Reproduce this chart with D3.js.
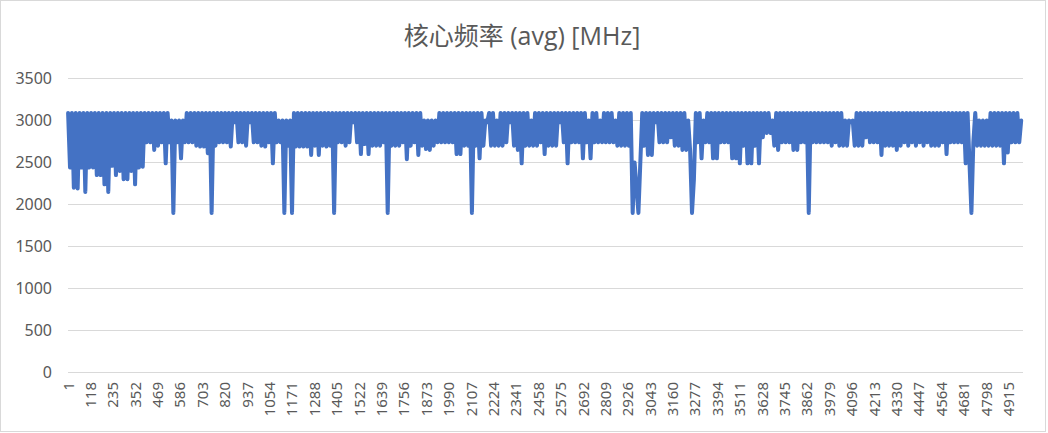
<!DOCTYPE html>
<html><head><meta charset="utf-8">
<script src="https://cdn.jsdelivr.net/npm/d3@7"></script>
<style>body{margin:0;background:#fff} svg{display:block}</style>
</head><body>
<svg id="c" width="1048" height="433"></svg>
<script>
const chartTitle = "核心频率 (avg) [MHz]";
const totalSamples = 4990;
const sampleStep = 10; // one reading kept per 10 samples
const yTicks = [0, 500, 1000, 1500, 2000, 2500, 3000, 3500];
const xTickLabels = [1,118,235,352,469,586,703,820,937,1054,1171,1288,1405,1522,1639,1756,1873,1990,2107,2224,2341,2458,2575,2692,2809,2926,3043,3160,3277,3394,3511,3628,3745,3862,3979,4096,4213,4330,4447,4564,4681,4798,4915];
const freqMHz = [
3090,2440,3090,2200,3090,2190,3090,2440,3090,2150,
3090,2440,3090,2440,3090,2350,3090,2350,3090,2240,
3090,2150,3090,2460,3090,2350,3090,2400,3090,2300,
3090,2300,3090,2400,3090,2240,3090,2440,3090,2450,
3090,2740,3090,2740,3090,2650,3090,2700,3090,2740,
3090,2490,3090,2740,3000,1900,3000,2740,3000,2550,
3000,2740,3090,2740,3090,2740,3090,2700,3090,2690,
3090,2690,3090,2610,3090,1900,3090,2700,3090,2740,
3090,2740,3090,2740,3090,2690,3090,2980,3090,2740,
3090,2740,3090,2700,3090,2980,3090,2740,3090,2740,
3090,2700,3090,2690,3090,2740,3090,2490,3090,2740,
3000,2740,3000,1900,3000,2700,3000,1900,3090,2690,
3090,2690,3090,2690,3090,2690,3090,2590,3090,2700,
3090,2590,3090,2700,3090,2690,3090,2700,3090,1900,
3090,2740,3090,2740,3090,2700,3090,2740,3090,2980,
3090,2740,3090,2600,3090,2720,3090,2600,3090,2700,
3090,2700,3090,2700,3090,2740,3090,1900,3090,2700,
3090,2700,3090,2700,3090,2740,3090,2540,3090,2700,
3090,2740,3090,2590,3090,2700,3000,2660,3000,2650,
3000,2700,3000,2740,3090,2740,3090,2740,3090,2740,
3090,2740,3090,2600,3090,2600,3090,2700,3090,2700,
3090,1900,3090,2700,3090,2550,3090,2700,3000,2980,
3090,2700,3090,2700,3000,2700,3090,2700,3090,2740,
3090,2980,3090,2700,3090,2650,3090,2490,3090,2700,
3090,2700,3000,2700,3090,2700,3090,2740,3090,2600,
3090,2700,3090,2700,3090,2700,3090,2980,3090,2740,
3090,2490,3090,2740,3090,2740,3090,2740,3090,2550,
3090,2740,3000,2550,3090,2740,3090,2740,3000,2740,
3090,2740,3090,2740,3090,2740,3000,2700,3090,2700,
3090,2700,3090,2700,3090,1900,2500,2200,1900,2500,
3090,2700,3090,2590,3090,2590,3090,2980,3090,2740,
3090,2740,3090,2740,3090,2800,3090,2700,3090,2700,
3090,2650,3090,2650,3000,2650,1900,2300,3090,2740,
3090,2550,3000,2740,3090,2740,3090,2550,3090,2550,
3090,2740,3090,2740,3090,2740,3090,2550,3090,2550,
3090,2490,3090,2700,3090,2490,3090,2490,3090,2700,
3090,2490,3090,2800,3090,2850,3090,2850,3000,2700,
3090,2650,3090,2740,3090,2740,3090,2740,3090,2650,
3090,2650,3090,2740,3090,2740,3090,1900,3090,2740,
3090,2740,3090,2740,3090,2740,3090,2740,3090,2700,
3090,2740,3090,2700,3090,2700,3000,2700,3000,2980,
3000,2700,3090,2700,3090,2700,3090,2800,3090,2740,
3090,2740,3090,2740,3090,2590,3090,2700,3090,2700,
3090,2700,3090,2650,3090,2700,3090,2740,3090,2700,
3090,2740,3090,2700,3090,2740,3090,2700,3090,2740,
3090,2700,3090,2700,3090,2700,3090,2740,3090,2600,
3090,2740,3090,2740,3090,2740,3090,2740,3090,2490,
3090,2490,1900,2740,3090,2700,3000,2700,3000,2700,
3000,2700,3090,2700,3090,2700,3090,2700,3090,2490,
3090,2620,3090,2740,3090,2740,3090,2740,3000
];

const svg = d3.select("#c");
const textColor = "#595959";
const gridColor = "#D9D9D9";
const font = "'Noto Sans', 'Open Sans', sans-serif";

svg.append("rect").attr("x", 0.5).attr("y", 0.5).attr("width", 1045).attr("height", 431)
  .attr("fill", "#fff").attr("stroke", gridColor);

const x = d3.scaleLinear().domain([0.5, totalSamples + 0.5]).range([68, 1023]);
const y = d3.scaleLinear().domain([0, 3500]).range([372.5, 78.5]);

svg.append("g").selectAll("line").data(yTicks).join("line")
  .attr("x1", 68).attr("x2", 1023)
  .attr("y1", d => y(d)).attr("y2", d => y(d))
  .attr("stroke", gridColor).attr("stroke-width", 1);

svg.append("g").selectAll("text").data(yTicks).join("text")
  .attr("x", 52).attr("y", d => y(d)).attr("dy", "0.36em")
  .attr("text-anchor", "end").attr("fill", textColor)
  .style("font-family", font).style("font-size", "16px")
  .text(d => d);

svg.append("g").selectAll("text").data(xTickLabels).join("text")
  .attr("transform", d => `translate(${x(d)},382) rotate(-90)`)
  .attr("dy", "0.36em").attr("text-anchor", "end").attr("fill", textColor)
  .style("font-family", font).style("font-size", "15px")
  .text(d => d);

const line = d3.line()
  .x((d, i) => x(1 + i * sampleStep))
  .y(d => y(d));

svg.append("path").datum(freqMHz)
  .attr("d", line).attr("fill", "none")
  .attr("stroke", "#4472C4").attr("stroke-width", 4)
  .attr("stroke-linejoin", "round").attr("stroke-linecap", "round");

svg.append("text").attr("x", 522).attr("y", 45).attr("text-anchor", "middle")
  .attr("fill", textColor)
  .style("font-family", "'Open Sans', 'Noto Sans CJK SC', sans-serif").style("font-size", "25px")
  .text(chartTitle);
</script>
</body></html>
